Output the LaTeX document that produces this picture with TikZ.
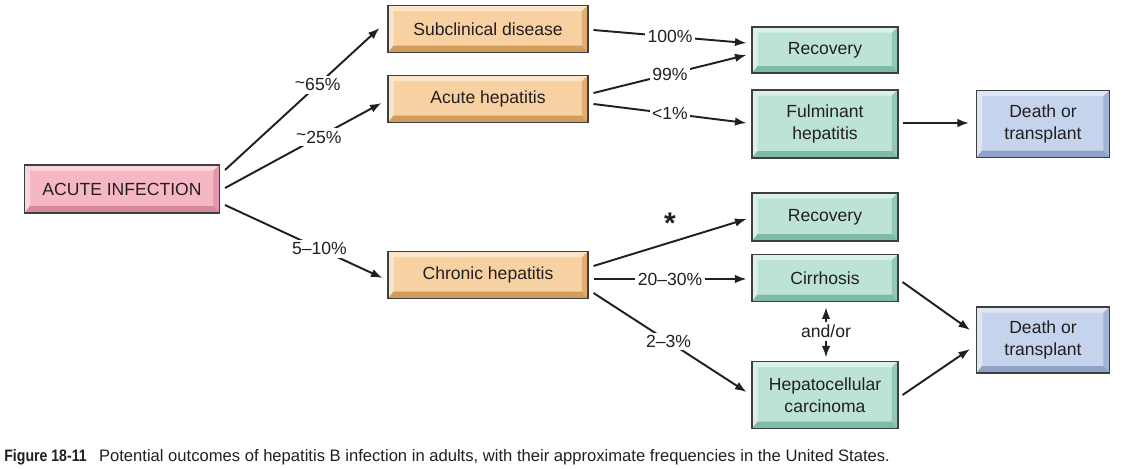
\documentclass[tikz,border=0pt]{standalone}
\usepackage{fontspec}
\setmainfont{Liberation Sans}
\setsansfont{Liberation Sans}
\usepackage{tikz}
\usetikzlibrary{positioning,arrows.meta,calc}
\definecolor{HBEdge}{HTML}{3F3F3F}
\definecolor{HBText}{HTML}{231F20}
\definecolor{HBPink}{HTML}{F5B7C3}
\definecolor{HBPinkL}{HTML}{FAD5DD}
\definecolor{HBPinkD}{HTML}{D6899B}
\definecolor{HBTan}{HTML}{F8D1A2}
\definecolor{HBTanL}{HTML}{FCE6CA}
\definecolor{HBTanD}{HTML}{D49C5C}
\definecolor{HBTeal}{HTML}{BDE3D8}
\definecolor{HBTealL}{HTML}{DAF1EA}
\definecolor{HBTealD}{HTML}{7DBAA8}
\definecolor{HBBlue}{HTML}{C6D3EC}
\definecolor{HBBlueL}{HTML}{DFE7F6}
\definecolor{HBBlueD}{HTML}{8FA2C8}

\begin{document}
\begin{tikzpicture}[
  x=0.02cm, y=-0.02cm,
  bevel/.style n args={3}{fill=#1,draw=HBEdge,line width=0.6pt,text=HBText,align=center,
    font=\fontsize{10}{12.5}\selectfont,inner sep=0pt,
    path picture={
      \path (path picture bounding box.south west) coordinate (sw)
            (path picture bounding box.north east) coordinate (ne)
            (path picture bounding box.south east) coordinate (se);
      \fill[#2] (sw) |- (ne) -- ++(-1.2mm,-1.1mm) -| ([shift={(1.1mm,1.4mm)}]sw) -- cycle;
      \fill[#3!65!#1] (se) -- (ne) -- ++(-1.2mm,-1.1mm) -- ([shift={(-1.2mm,1.4mm)}]se) -- cycle;
      \fill[#3] (sw) -- (se) -- ([shift={(-1.2mm,1.4mm)}]se) -- ([shift={(1.1mm,1.4mm)}]sw) -- cycle;
    }},
  pinkbox/.style={bevel={HBPink}{HBPinkL}{HBPinkD},minimum width=3.9cm,minimum height=0.96cm},
  tanbox/.style={bevel={HBTan}{HBTanL}{HBTanD},minimum width=4cm,minimum height=0.94cm},
  tealbox/.style={bevel={HBTeal}{HBTealL}{HBTealD},minimum width=2.92cm,minimum height=0.92cm},
  bluebox/.style={bevel={HBBlue}{HBBlueL}{HBBlueD},minimum width=2.66cm,minimum height=1.34cm},
  arrow/.style={-{Latex[length=2.3mm,width=1.7mm]},line width=1.1pt,draw=HBText},
  pct/.style={fill=white,inner sep=1.5pt,text=HBText,font=\fontsize{10}{12}\selectfont}
]
\useasboundingbox (0,0) rectangle (1137,468);
% boxes
\node[pinkbox] (infect) at (122,189) {ACUTE INFECTION};
\node[tanbox] (subcl) at (488,29) {Subclinical disease};
\node[tanbox] (acuteh) at (488,99) {Acute hepatitis};
\node[tanbox] (chronic) at (488,275) {Chronic hepatitis};
\node[tealbox] (rec1) at (825,50) {Recovery};
\node[tealbox, minimum height=1.36cm] (fulm) at (825,124) {Fulminant\\hepatitis};
\node[bluebox] (death1) at (1043,124) {Death or\\transplant};
\node[tealbox, minimum height=0.96cm] (rec2) at (825,217) {Recovery};
\node[tealbox, minimum height=0.94cm] (cirr) at (825,278) {Cirrhosis};
\node[tealbox, minimum height=1.34cm] (hcc) at (825,395) {Hepatocellular\\carcinoma};
\node[bluebox, minimum height=1.32cm] (death2) at (1043,340) {Death or\\transplant};
% arrows
\draw[arrow] ($(infect.east)+(5,-19)$) -- node[pct,pos=0.6]{\raisebox{0.3ex}{\textasciitilde}65\%} ($(subcl.west)+(-8,-1)$);
\draw[arrow] ($(infect.east)+(5,-1)$) -- node[pct,pos=0.6]{\raisebox{0.3ex}{\textasciitilde}25\%} ($(acuteh.west)+(-6,4)$);
\draw[arrow] ($(infect.east)+(5,16)$) -- node[pct,pos=0.6]{5--10\%} ($(chronic.west)+(-5,3)$);
\draw[arrow] ($(subcl.east)+(5,1)$) -- node[pct]{100\%} ($(rec1.west)+(-5,-7)$);
\draw[arrow] ($(acuteh.east)+(5,-6)$) -- node[pct]{99\%} ($(rec1.west)+(-5,5)$);
\draw[arrow] ($(acuteh.east)+(5,5)$) -- node[pct]{<1\%} ($(fulm.west)+(-5,-1)$);
\draw[arrow] ($(fulm.east)+(4,-1)$) -- ($(death1.west)+(-7,-1)$);
\draw[arrow] ($(chronic.east)+(5,-9)$) -- node[above=1pt,pos=0.5,font=\fontsize{17}{17}\selectfont\bfseries,text=HBText]{*} ($(rec2.west)+(-5,2)$);
\draw[arrow] ($(chronic.east)+(5,4)$) -- node[pct]{20--30\%} ($(cirr.west)+(-5,1)$);
\draw[arrow] ($(chronic.east)+(5,18)$) -- node[pct,pos=0.49]{2--3\%} ($(hcc.west)+(-5,-3)$);
\draw[arrow,{Latex[length=2.3mm,width=1.7mm]}-{Latex[length=2.3mm,width=1.7mm]},shorten <=3pt,shorten >=2pt]
  ($(cirr.south)+(1,0)$) -- node[pct,inner sep=2pt]{and/or} ($(hcc.north)+(1,0)$);
\draw[arrow] ($(cirr.east)+(4,4)$) -- ($(death2.west)+(-6,-10)$);
\draw[arrow] ($(hcc.east)+(4,0)$) -- ($(death2.west)+(-6,9)$);
% caption
\node[anchor=west,inner sep=0pt,text=HBText,font=\fontsize{9.45}{11}\selectfont] (caption) at (4,457)
  {\scalebox{0.85}[1]{\textbf{Figure 18-11}}\hspace{7pt}Potential outcomes of hepatitis B infection in adults, with their approximate frequencies in the United States.};
\end{tikzpicture}
\end{document}
